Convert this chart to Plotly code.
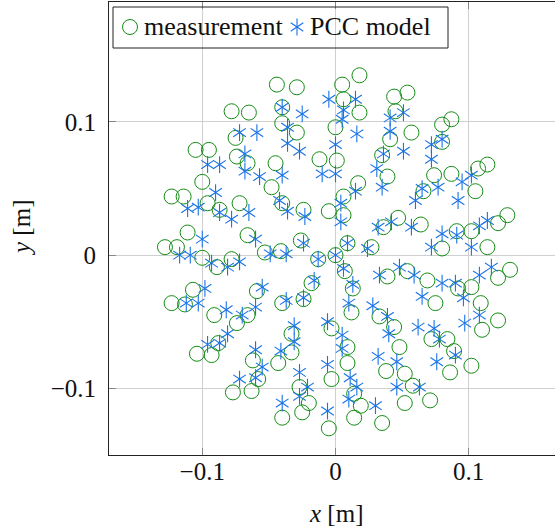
import plotly.graph_objects as go

# Measured antenna phase-centre positions (m)
meas_x = [-0.078, -0.065, -0.075, -0.105, -0.095, -0.074, -0.044, -0.029, 0.018, 0.005,
          0.006, 0.018, -0.040, -0.040, -0.029, 0.000, 0.044, 0.045, 0.041, 0.035,
          0.054, 0.057, 0.080, 0.087, 0.080, -0.066, -0.100, -0.123, -0.114, -0.096,
          -0.087, -0.072, -0.111, -0.128, -0.119, -0.100, -0.089, -0.078, -0.066, -0.053,
          -0.107, -0.059, -0.123, -0.113, -0.045, -0.012, 0.001, 0.039, 0.017, -0.048,
          -0.040, -0.024, -0.005, 0.006, 0.006, -0.026, 0.009, 0.027, 0.036, 0.047,
          -0.041, -0.013, 0.000, 0.007, 0.013, 0.039, 0.054, -0.018, -0.024, -0.040,
          0.107, 0.114, 0.074, 0.087, 0.066, 0.105, 0.064, 0.091, 0.102, 0.122,
          0.129, 0.080, 0.114, 0.069, 0.092, 0.102, 0.122, 0.131, 0.075, 0.109,
          -0.091, -0.074, -0.066, -0.088, -0.104, -0.093, -0.062, -0.077, -0.063, -0.058,
          -0.003, 0.012, 0.033, 0.044, 0.048, -0.033, -0.033, -0.043, 0.009, 0.009,
          -0.003, -0.027, -0.020, -0.025, 0.014, 0.019, 0.014, -0.040, -0.005, 0.035,
          0.038, 0.052, 0.052, 0.122, 0.110, 0.072, 0.084, 0.089, 0.086, 0.102,
          0.058, 0.071]
meas_y = [0.108, 0.107, 0.088, 0.079, 0.079, 0.074, 0.128, 0.126, 0.135, 0.128,
          0.117, 0.107, 0.111, 0.099, 0.092, 0.096, 0.119, 0.108, 0.087, 0.075,
          0.122, 0.092, 0.098, 0.102, 0.085, 0.069, 0.055, 0.044, 0.044, 0.039,
          0.034, 0.039, 0.017, 0.006, 0.006, -0.002, -0.009, -0.003, 0.015, 0.002,
          -0.026, -0.027, -0.036, -0.037, 0.069, 0.072, 0.071, 0.059, 0.054, 0.051,
          0.039, 0.034, 0.033, 0.044, 0.030, 0.011, 0.009, 0.006, 0.021, 0.028,
          0.003, -0.003, 0.000, -0.012, -0.025, -0.016, -0.012, -0.021, -0.033, -0.036,
          0.065, 0.068, 0.060, 0.061, 0.048, 0.048, 0.023, 0.018, 0.018, 0.024,
          0.030, 0.005, 0.006, -0.019, -0.025, -0.024, -0.017, -0.011, -0.036, -0.036,
          -0.045, -0.051, -0.045, -0.066, -0.074, -0.075, -0.079, -0.103, -0.102, -0.093,
          -0.055, -0.043, -0.046, -0.054, -0.069, -0.059, -0.073, -0.081, -0.069, -0.081,
          -0.093, -0.099, -0.111, -0.118, -0.104, -0.113, -0.122, -0.122, -0.130, -0.126,
          -0.087, -0.089, -0.111, -0.049, -0.056, -0.063, -0.063, -0.072, -0.088, -0.083,
          -0.098, -0.109]

# Phase-centre positions predicted by the PCC model (m)
pcc_x = [-0.072, -0.059, -0.068, -0.005, 0.015, 0.006, 0.005, -0.040, -0.025, -0.036,
         0.016, 0.000, -0.036, -0.027, 0.041, 0.051, 0.041, 0.036, 0.051, 0.072,
         0.080, -0.096, -0.087, -0.068, -0.090, -0.111, -0.103, -0.087, -0.078, -0.065,
         -0.100, -0.117, -0.109, -0.093, -0.081, -0.072, -0.060, -0.098, -0.112, -0.103,
         -0.082, -0.040, -0.010, 0.000, 0.031, 0.035, 0.015, -0.057, -0.042, -0.036,
         -0.023, 0.004, 0.004, 0.032, 0.042, -0.024, 0.009, 0.024, -0.049, -0.037,
         -0.013, 0.000, 0.006, 0.013, 0.033, 0.048, -0.016, -0.024, -0.037, -0.055,
         0.010, 0.028, 0.072, 0.102, 0.095, 0.077, 0.065, 0.060, 0.092, 0.057,
         0.080, 0.091, 0.108, 0.114, 0.072, 0.102, 0.059, 0.080, 0.090, 0.096,
         0.108, 0.117, 0.065, -0.070, -0.060, -0.081, -0.087, -0.096, -0.060, -0.072,
         -0.060, 0.039, 0.040, -0.006, -0.031, -0.031, 0.005, 0.005, -0.041, -0.055,
         -0.006, 0.011, 0.016, 0.010, -0.027, -0.021, -0.027, -0.040, -0.006, 0.030,
         0.032, 0.046, 0.046, 0.108, 0.097, 0.062, 0.074, 0.078, 0.090, 0.076,
         0.063]
pcc_y = [0.092, 0.092, 0.076, 0.117, 0.117, 0.109, 0.102, 0.111, 0.106, 0.096,
         0.091, 0.083, 0.084, 0.078, 0.103, 0.107, 0.093, 0.076, 0.078, 0.083,
         0.087, 0.068, 0.068, 0.063, 0.047, 0.035, 0.036, 0.032, 0.027, 0.032,
         0.012, 0.000, 0.000, -0.006, -0.009, -0.005, 0.012, -0.025, -0.036, -0.036,
         -0.041, 0.060, 0.061, 0.061, 0.065, 0.051, 0.048, 0.059, 0.041, 0.033,
         0.029, 0.039, 0.025, 0.021, 0.025, 0.009, 0.009, 0.005, 0.001, 0.001,
         -0.003, 0.000, -0.010, -0.022, -0.015, -0.009, -0.019, -0.032, -0.034, -0.024,
         -0.036, -0.038, 0.072, 0.060, 0.055, 0.051, 0.050, 0.041, 0.041, 0.021,
         0.016, 0.015, 0.022, 0.026, 0.006, 0.006, -0.015, -0.021, -0.021, -0.032,
         -0.015, -0.009, -0.031, -0.045, -0.039, -0.059, -0.066, -0.067, -0.071, -0.093,
         -0.092, -0.046, -0.059, -0.050, -0.053, -0.065, -0.060, -0.070, -0.072, -0.084,
         -0.082, -0.092, -0.099, -0.108, -0.088, -0.099, -0.106, -0.111, -0.117, -0.113,
         -0.076, -0.080, -0.099, -0.045, -0.051, -0.054, -0.055, -0.063, -0.075, -0.080,
         -0.099]

tick_vals = [-0.1, 0, 0.1]
tick_text = ["\u22120.1", "0", "0.1"]
series_names = ["measurement", "PCC model"]

GREEN = "rgb(20,140,20)"
BLUE = "rgb(25,115,230)"
FONT = "Liberation Serif, Times New Roman, serif"

# Canvas and plot-area geometry (equal scaling on both axes)
W, H = 555, 526
L, R, T, B = 109, 0, 2, 71
plot_w = W - L - R
plot_h = H - T - B
X_MIN = -0.17
Y_MIN, Y_MAX = -0.15, 0.19
scale = plot_h / (Y_MAX - Y_MIN)
X_MAX = X_MIN + plot_w / scale


def px(xp):
    return (xp - L) / plot_w


def py(yp):
    return (H - B - yp) / plot_h


circle_marker = dict(symbol="circle-open", size=15, color=GREEN,
                     line=dict(width=1, color=GREEN))


def star_marker(sym):
    return dict(symbol=sym, size=10.5, color=BLUE, line=dict(width=1.1, color=BLUE))


fig = go.Figure()
fig.add_trace(go.Scatter(x=meas_x, y=meas_y, mode="markers", name=series_names[0],
                         marker=circle_marker, showlegend=False))
# six-armed asterisk: two overlaid three-armed symbols
for sym in ("y-up-open", "y-down-open"):
    fig.add_trace(go.Scatter(x=pcc_x, y=pcc_y, mode="markers", name=series_names[1],
                             marker=star_marker(sym), showlegend=False))

# legend sample markers on an overlay axis spanning the plot area
fig.add_trace(go.Scatter(x=[px(130)], y=[py(27)], xaxis="x2", yaxis="y2", mode="markers",
                         marker=circle_marker, showlegend=False, hoverinfo="skip"))
for sym in ("y-up-open", "y-down-open"):
    fig.add_trace(go.Scatter(x=[px(297)], y=[py(27)], xaxis="x2", yaxis="y2", mode="markers",
                             marker=star_marker(sym), showlegend=False, hoverinfo="skip"))

axis_common = dict(
    tickvals=tick_vals, ticktext=tick_text, showgrid=True, gridcolor="#cfcfcf", gridwidth=1,
    zeroline=False, showline=True, linecolor="#222", linewidth=1,
    ticks="inside", ticklen=7, tickcolor="#888", tickwidth=1,
    tickfont=dict(family=FONT, size=25, color="#111"),
)

fig.update_layout(
    width=W, height=H,
    margin=dict(l=L, r=R, t=T, b=B, pad=0),
    paper_bgcolor="white", plot_bgcolor="white",
    xaxis=dict(range=[X_MIN, X_MAX], mirror="ticks", ticklabelstandoff=-6, **axis_common),
    yaxis=dict(range=[Y_MIN, Y_MAX], mirror=False, ticklabelstandoff=7, **axis_common),
    xaxis2=dict(overlaying="x", range=[0, 1], visible=False, fixedrange=True),
    yaxis2=dict(overlaying="y", range=[0, 1], visible=False, fixedrange=True),
    showlegend=False,
    shapes=[dict(type="rect", xref="paper", yref="paper",
                 x0=px(113), x1=px(448), y0=py(48), y1=py(7),
                 line=dict(color="#222", width=1), fillcolor="rgba(255,255,255,0)")],
    annotations=[
        dict(text=series_names[0], xref="paper", yref="paper", x=px(142), y=py(27),
             xanchor="left", yanchor="middle", showarrow=False,
             font=dict(family=FONT, size=26, color="#111")),
        dict(text=series_names[1], xref="paper", yref="paper", x=px(308), y=py(27),
             xanchor="left", yanchor="middle", showarrow=False,
             font=dict(family=FONT, size=26, color="#111")),
        dict(text="<i>x</i> [m]", xref="x", yref="paper", x=0, y=py(513),
             xanchor="center", yanchor="middle", showarrow=False,
             font=dict(family=FONT, size=25, color="#111")),
        dict(text="<i>y</i> [m]", xref="paper", yref="paper", x=px(21), y=py(228),
             xanchor="center", yanchor="middle", textangle=-90, showarrow=False,
             font=dict(family=FONT, size=25, color="#111")),
    ],
)

fig.write_html("out.html")
